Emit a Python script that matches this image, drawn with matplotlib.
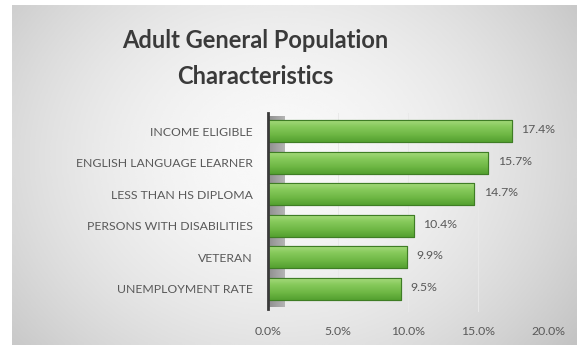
import numpy as np
import matplotlib
matplotlib.use("Agg")
import matplotlib.pyplot as plt
from matplotlib.patches import Rectangle

# data (bottom to top)
categories = ["UNEMPLOYMENT RATE", "VETERAN", "PERSONS WITH DISABILITIES",
              "LESS THAN HS DIPLOMA", "ENGLISH LANGUAGE LEARNER", "INCOME ELIGIBLE"]
values = [9.5, 9.9, 10.4, 14.7, 15.7, 17.4]
xticks = [0, 5, 10, 15, 20]
xtick_labels = ["0.0%", "5.0%", "10.0%", "15.0%", "20.0%"]

W, H = 577, 345
fig = plt.figure(figsize=(W / 100, H / 100), dpi=100)
fig.patch.set_facecolor("white")

# gray gradient panel behind everything
bg = fig.add_axes([12 / W, 0, 1 - 12 / W, 1 - 5 / H], zorder=0)
yy, xx = np.mgrid[-1:1:200j, -1:1:300j]
r = np.sqrt(((xx + 0.05) / 1.0) ** 2 + ((yy + 0.1) / 1.4) ** 2)
shade = np.clip(0.975 - 0.13 * r ** 1.8, 0, 1)
bg.imshow(shade, cmap="gray", vmin=0, vmax=1, aspect="auto",
          extent=[0, 1, 0, 1], interpolation="bicubic")
bg.axis("off")

ax = fig.add_axes([268 / W, 1 - 312 / H, 280 / W, 199 / H], zorder=1)
ax.set_facecolor("none")

# faint gridlines
for t in xticks[1:-1]:
    ax.axvline(t, color="#e9e9e9", lw=0.7, zorder=0.5)

# left wall of the 3d chart
wall_grad = np.linspace(0, 1, 32).reshape(1, -1)
wall = Rectangle((0, -0.58), 1.2, 6.05, facecolor="none", edgecolor="none")
ax.add_patch(wall)
wim = ax.imshow(wall_grad, cmap=matplotlib.colors.LinearSegmentedColormap.from_list(
    "w", ["#8e8e8e", "#b4b4b4"]), aspect="auto",
    extent=[0, 1.2, -0.58, 5.47], zorder=0.8)
wim.set_clip_path(wall)

green = matplotlib.colors.LinearSegmentedColormap.from_list(
    "g", ["#54a030", "#6fb845", "#86c95b", "#a9dc80"])
grad = np.linspace(0, 1, 64).reshape(-1, 1)
grad = np.hstack([grad, grad])

bars = ax.barh(range(len(values)), values, height=0.7, left=0,
               color="#7cc152", edgecolor="#3f7d25", linewidth=0.8, zorder=2)
for b, v in zip(bars, values):
    x0, y0 = b.get_x(), b.get_y()
    w, h = b.get_width(), b.get_height()
    im = ax.imshow(grad, cmap=green, aspect="auto", origin="lower",
                   extent=[x0, x0 + w, y0, y0 + h], zorder=2.1)
    im.set_clip_path(b)
    ax.add_patch(Rectangle((x0, y0), w, h, facecolor="none",
                           edgecolor="#3f7d25", linewidth=0.8, zorder=2.2))
    ax.text(v + 0.7, y0 + h / 2 + 0.05, f"{v:.1f}%", va="center", ha="left",
            fontsize=8.8, color="#595959", family="Lato")

ax.set_xlim(0, 20)
ax.set_ylim(-0.73, 5.57)
ax.set_yticks(range(len(categories)))
ax.set_yticklabels(categories, fontsize=8.8, color="#595959", family="Lato")
ax.set_xticks(xticks)
ax.set_xticklabels(xtick_labels, fontsize=8.8, color="#595959", family="Lato")
ax.tick_params(axis="both", length=0)
ax.tick_params(axis="y", pad=11)
ax.tick_params(axis="x", pad=10)
for s in ["top", "right", "bottom"]:
    ax.spines[s].set_visible(False)
ax.spines["left"].set_color("#3a3a3a")
ax.spines["left"].set_linewidth(2)
ax.spines["left"].set_bounds(-0.63, 5.57)

fig.text(255 / W, 1 - 40 / H, "Adult General Population", ha="center", va="center",
         fontsize=17, fontweight="bold", color="#3a3a3a", family="Lato")
fig.text(255 / W, 1 - 76 / H, "Characteristics", ha="center", va="center",
         fontsize=17, fontweight="bold", color="#3a3a3a", family="Lato")

fig.savefig("out.png", dpi=100)
